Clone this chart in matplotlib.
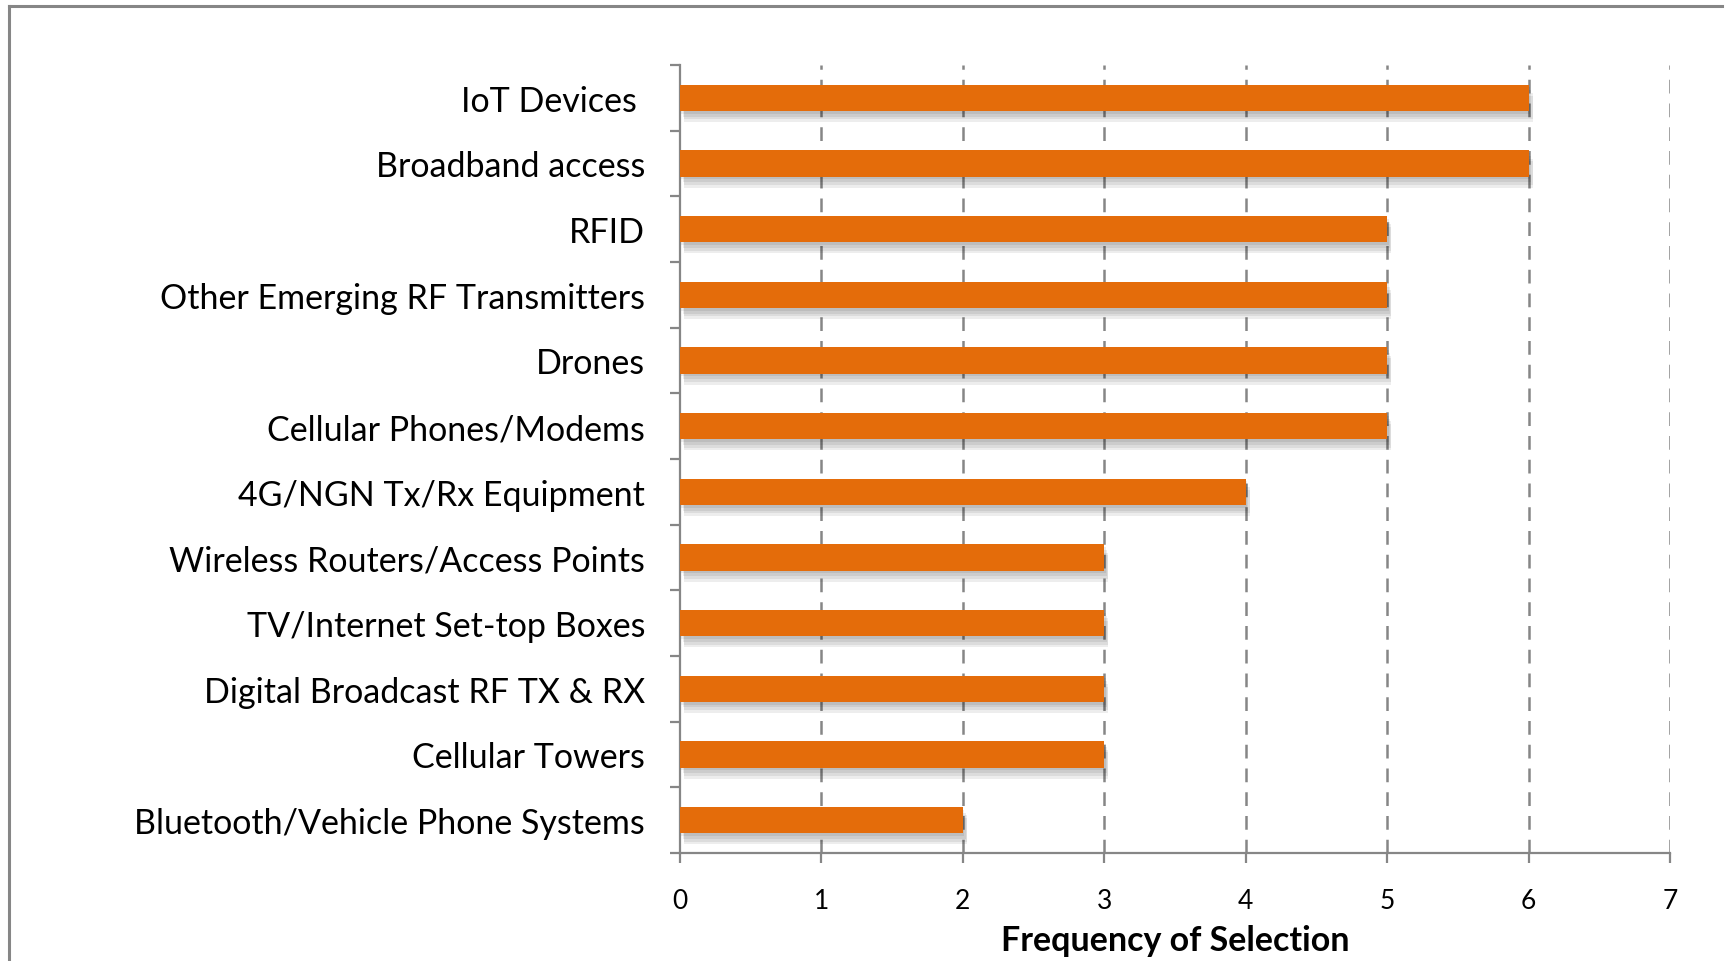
import matplotlib
matplotlib.use('Agg')
import matplotlib.pyplot as plt
import matplotlib.patheffects as pe
from matplotlib.lines import Line2D
import numpy as np

# categories, top to bottom as in the chart
categories = [
    'IoT Devices ',
    'Broadband access',
    'RFID',
    'Other Emerging RF Transmitters',
    'Drones',
    'Cellular Phones/Modems',
    '4G/NGN Tx/Rx Equipment',
    'Wireless Routers/Access Points',
    'TV/Internet Set-top Boxes',
    'Digital Broadcast RF TX & RX',
    'Cellular Towers',
    'Bluetooth/Vehicle Phone Systems',
]
frequency = [6, 6, 5, 5, 5, 5, 4, 3, 3, 3, 3, 2]
x_ticks = [0, 1, 2, 3, 4, 5, 6, 7]
x_label = 'Frequency of Selection'

plt.rcParams['font.family'] = ['Lato', 'DejaVu Sans']

fig = plt.figure(figsize=(17.27, 9.62), dpi=100)
ax = fig.add_axes([0.3937, 0.1123, 0.5733, 0.8191])

bar_color = '#E46C0A'
grid_color = '#868686'

ypos = np.arange(len(categories))
bars = ax.barh(ypos, frequency, height=0.4, color=bar_color, zorder=3)
# soft drop shadow under each bar, a few layers to fake the blur
shadow = [pe.SimplePatchShadow(offset=(dx, -dy), shadow_rgbFace='#000000', alpha=0.07)
          for dx, dy in [(1, 2), (2, 4), (3, 6), (3, 8)]]
for b in bars:
    b.set_path_effects(shadow + [pe.Normal()])

ax.set_xlim(0, 7)
ax.set_ylim(len(categories) - 0.5, -0.5)

# dashed vertical gridlines
ax.set_xticks(x_ticks)
ax.set_xticklabels([str(t) for t in x_ticks], fontsize=19)
for t in x_ticks[1:]:
    ax.axvline(t, color=grid_color, lw=1.8, ls=(0, (5.5, 4)), zorder=1)

# category labels, ticks at the category boundaries
ax.set_yticks(ypos)
ax.set_yticklabels(categories, fontsize=24.5)
ax.set_yticks(np.arange(-0.5, len(categories)), minor=True)
ax.tick_params(axis='y', which='major', length=0, pad=25)
ax.tick_params(axis='y', which='minor', length=7, width=1.6, color=grid_color)
ax.tick_params(axis='x', length=7, width=1.6, color=grid_color, pad=18)

for side in ['top', 'right']:
    ax.spines[side].set_visible(False)
for side in ['left', 'bottom']:
    ax.spines[side].set_color(grid_color)
    ax.spines[side].set_linewidth(1.6)

ax.set_xlabel(x_label, fontsize=24.5, fontweight='bold', labelpad=8)

# border of the chart area (left and top edges show)
fig.add_artist(Line2D([0.0052, 0.0052], [0, 0.9927], transform=fig.transFigure,
                      color=grid_color, lw=2.2))
fig.add_artist(Line2D([0.0052, 0.997], [0.9927, 0.9927], transform=fig.transFigure,
                      color=grid_color, lw=2.2))

fig.savefig('out.png', dpi=100)
